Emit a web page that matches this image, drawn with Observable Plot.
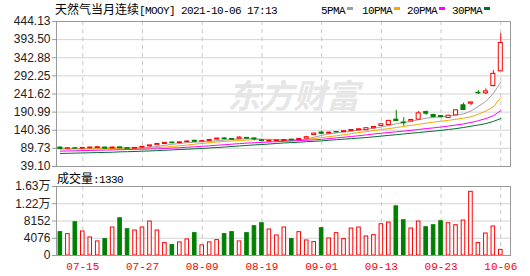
<!DOCTYPE html>
<html><head><meta charset="utf-8">
<script src="https://cdn.jsdelivr.net/npm/d3@7"></script>
<script src="https://cdn.jsdelivr.net/npm/@observablehq/plot@0.6"></script>
<style>
body{margin:0;background:#fff;}
#wrap{position:relative;width:530px;height:276px;overflow:hidden;background:#fff;}
.abs{position:absolute;white-space:nowrap;line-height:14px;}
.m{font-family:"Liberation Mono",monospace;font-size:11px;letter-spacing:-0.6px;color:#000;}
.c{font-family:"Noto Sans CJK SC",sans-serif;font-size:12px;color:#000;}
.sw{position:absolute;width:6px;height:3px;}
</style></head><body><div id="wrap"></div>
<script>
// ---- data ----
const tickIdx = [3, 11, 19, 27, 35, 43, 51, 59];
const tickLabels = ["07-15", "07-27", "08-09", "08-19", "09-01", "09-13", "09-23", "10-06"];
const priceTicks = [39.10, 89.73, 140.36, 190.99, 241.62, 292.25, 342.88, 393.50, 444.13];
const volTicks = [0, 4076, 8152, 12228, 16304];
const volTickLabels = ["0", "4076", "8152", "1.22万", "1.63万"];

const open  = [92, 88.5, 90, 89, 90, 90.5, 92, 89.5, 92.5, 90, 89, 91.5, 95, 98.5, 102, 106, 104.5, 107, 111, 108.5,
               110.5, 114.5, 117.5, 116, 116.5, 119, 117.5, 112, 109, 110, 110.5, 114, 113, 117, 127, 134, 131, 135.5, 135, 138,
               140, 140.5, 146, 152.3, 155, 170, 162, 165, 170, 191, 183, 180, 174.5, 182, 210, 214.6, 245, 243.5, 264, 305];
const close = [88, 90, 89, 91, 92, 93, 89, 92, 90, 88.5, 91, 94, 98, 102, 105, 104, 106.5, 109, 108, 110,
               113, 117, 115, 114, 120, 117, 115, 110, 111, 112, 113, 112, 116, 121, 131, 130.5, 133.5, 134.2, 137.6, 141,
               143, 146, 149.5, 157, 166.5, 166, 160, 169, 187.6, 186.7, 177.5, 177, 181, 196, 197, 218, 243.5, 249, 298, 384];
const high  = [93, 91, 91, 92, 93, 94, 93, 93, 93.5, 91, 92, 95, 99, 103, 106, 107, 108, 110, 112, 111,
               115, 118, 119, 117, 122, 120, 118, 113, 112, 113, 114, 115, 117, 122, 132, 137.4, 135, 136.5, 138.5, 142,
               144, 147, 150, 158, 168, 196, 175.6, 171, 193, 194, 185, 181, 182, 197, 216, 218.5, 251, 256, 307, 411];
const low   = [86, 88, 88, 88.5, 89, 90, 88, 89, 89, 88, 88.5, 91, 94, 98, 101, 103, 104, 106, 107, 108,
               110, 114, 114, 113, 116, 116, 111, 109, 108, 109.5, 110, 111, 112, 116, 126, 130, 130, 133.5, 134.5, 137.5,
               139.5, 140, 144, 151.5, 154, 165.5, 151.5, 164.5, 169, 182, 175, 175, 174, 181, 196, 209, 240, 240, 261, 305];
const volume = [5513, 5044, 7859, 5670, 4262, 3324, 3871, 6608, 8798, 6217, 5904, 6608, 8016, 5904, 2933, 2463, 3089, 3793, 5279, 2385,
                3089, 3636, 5044, 5513, 3324, 5279, 6921, 7625, 6139, 4731, 6608, 3871, 5513, 3558, 3167, 6452, 4028, 5279, 3871, 6374,
                6608, 4497, 4809, 7390, 7781, 11613, 8328, 6374, 8016, 6686, 7155, 8094, 7625, 7155, 8250, 15052, 2933, 5201, 6843, 1330];
const ma5  = [90, 90, 89.5, 89.5, 90, 90.5, 91, 91.5, 91.5, 91, 90.5, 91, 92.5, 95, 98.5, 101, 103.5, 106, 107, 108.5,
              109.5, 111.5, 113, 114.5, 116, 117, 116.5, 115.5, 114.5, 113, 112, 112, 113, 116, 121, 126, 130, 133, 135.5, 138,
              141, 143.5, 146, 149.5, 154, 158.5, 162, 165, 170, 174, 176.5, 178, 180, 183, 186, 194, 207, 221, 243, 275];
const ma10 = [87.5, 87.5, 88, 88, 88.5, 88.5, 89, 89.5, 90, 90, 90.5, 90.5, 91, 92, 93.5, 95, 97, 99, 101.5, 103.5,
              105.5, 107.5, 109, 110.5, 112, 113, 114, 114.5, 115, 114.5, 114, 114, 114, 115, 117, 120, 122.5, 125, 128, 131,
              134, 136.5, 139.5, 142.3, 145, 148, 151, 154, 157, 160, 163, 165.5, 168, 171, 174, 178, 185, 194, 206, 231];
const ma20 = [82, 82.5, 83, 83.5, 84, 84.5, 85, 85.5, 86, 86.5, 87, 87.5, 88, 88.5, 89.5, 90.5, 91.5, 93, 94, 95.5,
              97, 98.5, 100, 101.5, 103, 104.5, 105.5, 106.5, 107.5, 108.5, 109.5, 110.5, 111.5, 112.5, 113.5, 115, 117, 119, 121, 123,
              125, 127.5, 130, 132, 134, 136, 138, 140, 142.5, 145, 147, 149.5, 152, 155, 158, 162, 167, 173, 181, 195];
const ma30 = [75.5, 76, 76.5, 77, 77.5, 78, 78.5, 79, 80, 80.5, 81, 82, 82.5, 83.5, 84.5, 85.5, 86.5, 87.5, 88.5, 89.5,
              91, 92, 93.5, 95, 96.5, 98, 99.5, 100.5, 102, 103.5, 105, 106, 107, 108.5, 109.5, 110.6, 112.5, 114, 115.5, 117,
              118.5, 120, 122, 124, 126, 128, 130, 132, 134, 136, 138, 140, 142.5, 145, 148, 151.5, 155, 159, 165, 173];
const maNames = ["5PMA", "10PMA", "20PMA", "30PMA"];
const title = "天然气当月连续[MOOY] 2021-10-06 17:13";

// ---- derived table ----
const bars = open.map((o, i) => ({
  i, o, c: close[i], h: high[i], l: low[i], v: volume[i],
  up: close[i] >= o,
  vup: i === 0 ? close[i] >= o : close[i] >= close[i - 1]
}));
const RED = "#ff0000", GREEN = "#008000";
const maColors = ["#a0a0a0", "#f5a800", "#ff00ff", "#006f2f"];
const maData = [ma5, ma10, ma20, ma30];
const xDomain = [-0.52, 60.3];
const grid = "#d3d3d3", frameC = "#9a9a9a", dashC = "#c8c8c8";

const wrap = document.getElementById("wrap");

const pricePlot = Plot.plot({
  width: 530, height: 176, marginLeft: 56, marginRight: 20, marginTop: 21, marginBottom: 10,
  style: {fontFamily: "'Liberation Sans', Arial, sans-serif", fontSize: "12px", background: "transparent"},
  x: {type: "linear", domain: xDomain, axis: null},
  y: {domain: [39.10, 444.13], axis: null},
  color: {type: "identity"},
  marks: [
    Plot.ruleY(priceTicks.slice(1, -1), {stroke: grid}),
    Plot.ruleX(tickIdx, {stroke: dashC, strokeDasharray: "4,4"}),
    Plot.text(["东方财富"], {x: 31.2, y: 232, text: d => d, fontSize: 33, fontWeight: "bold", fill: "#e6e6e6",
      fontFamily: "'Noto Sans CJK SC', sans-serif", fontStyle: "italic"}),
    ...maData.map((m, k) => Plot.line(m, {x: (d, i) => i, y: d => d, stroke: maColors[k], strokeWidth: 1})),
    Plot.ruleX(bars, {x: "i", y1: "l", y2: "h", stroke: d => d.up ? RED : GREEN}),
    Plot.rect(bars, {x1: d => d.i - 0.27, x2: d => d.i + 0.27, y1: "o", y2: "c",
      fill: d => d.up ? "#ffffff" : GREEN, stroke: d => d.up ? RED : GREEN, strokeWidth: 1}),
    Plot.frame({stroke: frameC}),
    Plot.axisY(priceTicks, {label: null, tickFormat: d => d.toFixed(2), tickSize: 4, tickPadding: 2, stroke: frameC, fill: "#222", color: "#222"})
  ]
});
pricePlot.style.position = "absolute"; pricePlot.style.left = "0px"; pricePlot.style.top = "0px";
wrap.appendChild(pricePlot);

const volPlot = Plot.plot({
  width: 530, height: 100, marginLeft: 56, marginRight: 20, marginTop: 10, marginBottom: 21,
  style: {fontFamily: "'Liberation Sans', Arial, 'Noto Sans CJK SC', sans-serif", fontSize: "12px", background: "transparent"},
  x: {type: "linear", domain: xDomain, axis: null},
  y: {domain: [0, 16304], axis: null},
  color: {type: "identity"},
  marks: [
    Plot.ruleY(volTicks.slice(1, -1), {stroke: grid}),
    Plot.ruleX(tickIdx, {stroke: dashC, strokeDasharray: "4,4"}),
    Plot.rect(bars, {x1: d => d.i - 0.24, x2: d => d.i + 0.24, y1: 0, y2: "v",
      fill: d => d.vup ? "#ffffff" : GREEN, stroke: d => d.vup ? RED : GREEN, strokeWidth: 1}),
    Plot.frame({stroke: frameC}),
    Plot.axisY(volTicks, {label: null, tickFormat: (d, i) => volTickLabels[i], tickSize: 4, tickPadding: 2, stroke: frameC, fill: "#222", color: "#222"}),
    Plot.text(tickIdx, {x: d => d, y: 0, dy: 11, text: (d, i) => tickLabels[i], fill: RED,
      fontFamily: "'Liberation Mono', monospace", fontSize: 11, letterSpacing: "-0.6px"})
  ]
});
volPlot.style.position = "absolute"; volPlot.style.left = "0px"; volPlot.style.top = "176px";
wrap.appendChild(volPlot);

// ---- title, legend, volume label (HTML) ----
function addText(html, left, top) {
  const d = document.createElement("div");
  d.className = "abs"; d.style.left = left + "px"; d.style.top = top + "px";
  d.innerHTML = html; wrap.appendChild(d); return d;
}
const m = title.match(/^([^\[]+)(.*)$/);
addText(`<span class="c">${m[1]}</span><span class="m">${m[2]}</span>`, 55, 2);
const legX = [321, 362, 407, 452];
maNames.forEach((n, k) => {
  addText(`<span class="m">${n}</span>`, legX[k], 2);
  const s = document.createElement("div");
  s.className = "sw"; s.style.left = (legX[k] + n.length * 6 + 2) + "px"; s.style.top = "7px";
  s.style.background = maColors[k]; wrap.appendChild(s);
});
addText(`<span class="c">成交量</span><span class="m">:${volume[volume.length - 1]}</span>`, 57, 171);
</script></body></html>
